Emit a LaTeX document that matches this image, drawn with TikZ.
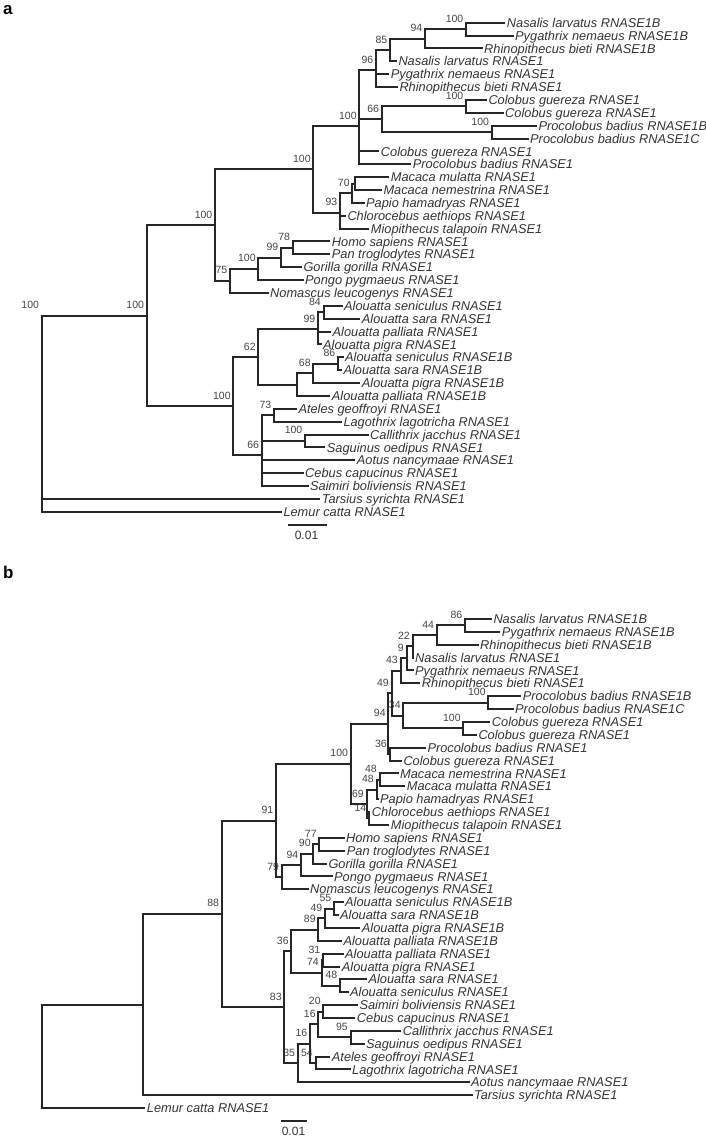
\documentclass[tikz,border=0pt]{standalone}
\usepackage{fontspec}
\usetikzlibrary{calc}
\newfontfamily\arial{Liberation Sans}
\definecolor{linec}{gray}{0.15}
\definecolor{txtc}{gray}{0.2}
\definecolor{bsc}{gray}{0.27}
\tikzset{
  brs/.style={draw=linec, line width=2pt},
  lf/.style={anchor=base west, inner sep=0pt, xshift=1.5pt, yshift=-4.6pt, text=txtc,
    font=\arial\itshape\fontsize{12.8}{14}\selectfont},
  bs/.style={anchor=base east, inner sep=0pt, xshift=-2.5pt, yshift=7pt, text=bsc,
    font=\arial\fontsize{10.5}{12}\selectfont},
  sclab/.style={anchor=base, inner sep=0pt, text=txtc, font=\arial\fontsize{12}{14}\selectfont},
  panel/.style={anchor=base west, inner sep=0pt, text=black, font=\arial\bfseries\fontsize{17}{20}\selectfont}
}
\newcommand\mkleaf[4]{\coordinate (#1) at (#2,#3); \node[lf] (#1t) at (#1) {#4};}
\newcommand\mkin[4]{\coordinate (#1) at (#2,#3); \node[bs] (#1b) at (#1) {#4};}
\newcommand\mkedge[2]{\draw[brs] (#1) |- (#2);}
\begin{document}
\begin{tikzpicture}[x=1pt,y=-1pt]
\useasboundingbox[fill=white] (0,0) rectangle (706,1137);
\node[panel] (pa) at (3,15) {a};
\node[panel] (pb) at (3,578) {b};
% ---------------- panel a ----------------
\mkleaf{a1}{505.2}{22.70}{Nasalis larvatus RNASE1B}
\mkleaf{a2}{513.5}{35.57}{Pygathrix nemaeus RNASE1B}
\mkleaf{a3}{482.5}{48.44}{Rhinopithecus bieti RNASE1B}
\mkleaf{a4}{396.8}{61.31}{Nasalis larvatus RNASE1}
\mkleaf{a5}{389.2}{74.18}{Pygathrix nemaeus RNASE1}
\mkleaf{a6}{397.8}{87.05}{Rhinopithecus bieti RNASE1}
\mkleaf{a7}{486.8}{99.92}{Colobus guereza RNASE1}
\mkleaf{a8}{503.5}{112.79}{Colobus guereza RNASE1}
\mkleaf{a9}{536.8}{125.66}{Procolobus badius RNASE1B}
\mkleaf{a10}{528.5}{138.53}{Procolobus badius RNASE1C}
\mkleaf{a11}{379.2}{151.40}{Colobus guereza RNASE1}
\mkleaf{a12}{411.2}{164.27}{Procolobus badius RNASE1}
\mkleaf{a13}{389.2}{177.14}{Macaca mulatta RNASE1}
\mkleaf{a14}{381.8}{190.01}{Macaca nemestrina RNASE1}
\mkleaf{a15}{364.5}{202.88}{Papio hamadryas RNASE1}
\mkleaf{a16}{345.8}{215.75}{Chlorocebus aethiops RNASE1}
\mkleaf{a17}{369.2}{228.62}{Miopithecus talapoin RNASE1}
\mkleaf{a18}{330.2}{241.49}{Homo sapiens RNASE1}
\mkleaf{a19}{330.2}{254.36}{Pan troglodytes RNASE1}
\mkleaf{a20}{301.8}{267.23}{Gorilla gorilla RNASE1}
\mkleaf{a21}{303.5}{280.10}{Pongo pygmaeus RNASE1}
\mkleaf{a22}{268.5}{292.97}{Nomascus leucogenys RNASE1}
\mkleaf{a23}{342.5}{305.84}{Alouatta seniculus RNASE1}
\mkleaf{a24}{360.2}{318.71}{Alouatta sara RNASE1}
\mkleaf{a25}{331}{331.58}{Alouatta palliata RNASE1}
\mkleaf{a26}{321.5}{344.45}{Alouatta pigra RNASE1}
\mkleaf{a27}{343.5}{357.32}{Alouatta seniculus RNASE1B}
\mkleaf{a28}{341.8}{370.19}{Alouatta sara RNASE1B}
\mkleaf{a29}{360.2}{383.06}{Alouatta pigra RNASE1B}
\mkleaf{a30}{330.2}{395.93}{Alouatta palliata RNASE1B}
\mkleaf{a31}{296.8}{408.80}{Ateles geoffroyi RNASE1}
\mkleaf{a32}{341.8}{421.67}{Lagothrix lagotricha RNASE1}
\mkleaf{a33}{368.5}{434.54}{Callithrix jacchus RNASE1}
\mkleaf{a34}{325.2}{447.41}{Saguinus oedipus RNASE1}
\mkleaf{a35}{355.2}{460.28}{Aotus nancymaae RNASE1}
\mkleaf{a36}{303.5}{473.15}{Cebus capucinus RNASE1}
\mkleaf{a37}{308.5}{486.02}{Saimiri boliviensis RNASE1}
\mkleaf{a38}{320.2}{498.89}{Tarsius syrichta RNASE1}
\mkleaf{a39}{281.8}{511.76}{Lemur catta RNASE1}
\mkin{A100a}{466}{29.135}{100}
\mkin{A94}{425}{38.79}{94}
\mkin{A85}{390}{50.05}{85}
\mkin{A96}{376}{70.43}{96}
\mkin{A100b}{466}{106.355}{100}
\mkin{A100c}{491.7}{132.095}{100}
\mkin{A66}{381.7}{119.225}{66}
\mkin{ACol}{359.3}{126.33}{100}
\coordinate (AMac) at (354.5,183.575);
\mkin{A70}{352.3}{193.23}{70}
\mkin{A93}{340}{212.53}{93}
\mkin{ACer}{313.3}{169.43}{100}
\mkin{A78}{292.7}{247.925}{78}
\mkin{A99}{281}{257.58}{99}
\mkin{A100h}{258.3}{268.84}{100}
\mkin{A75}{230}{280.905}{75}
\mkin{ACat}{215}{225.17}{100}
\mkin{A84}{323.5}{312.275}{84}
\mkin{A99p}{318}{329.435}{99}
\mkin{A86}{338}{363.755}{86}
\mkin{A68}{313.3}{373.41}{68}
\coordinate (A297) at (296.7,384.67);
\mkin{A62}{258.3}{357.05}{62}
\mkin{A73}{274}{415.235}{73}
\mkin{A100q}{305}{440.975}{100}
\mkin{A66p}{261.7}{455.13}{66}
\mkin{APla}{233.3}{406.09}{100}
\mkin{AAnt}{146.7}{315.63}{100}
\coordinate (ARoot) at (41.7,442.09);
\node[bs, xshift=0pt] (ARootb) at (41.7,315.63) {100};
\mkedge{A100a}{a1}\mkedge{A100a}{a2}
\mkedge{A94}{A100a}\mkedge{A94}{a3}
\mkedge{A85}{A94}\mkedge{A85}{a4}
\mkedge{A96}{A85}\mkedge{A96}{a5}\mkedge{A96}{a6}
\mkedge{A100b}{a7}\mkedge{A100b}{a8}
\mkedge{A100c}{a9}\mkedge{A100c}{a10}
\mkedge{A66}{A100b}\mkedge{A66}{A100c}
\mkedge{ACol}{A96}\mkedge{ACol}{A66}\mkedge{ACol}{a11}\mkedge{ACol}{a12}
\mkedge{AMac}{a13}\mkedge{AMac}{a14}
\mkedge{A70}{AMac}\mkedge{A70}{a15}
\mkedge{A93}{A70}\mkedge{A93}{a16}\mkedge{A93}{a17}
\mkedge{ACer}{ACol}\mkedge{ACer}{A93}
\mkedge{A78}{a18}\mkedge{A78}{a19}
\mkedge{A99}{A78}\mkedge{A99}{a20}
\mkedge{A100h}{A99}\mkedge{A100h}{a21}
\mkedge{A75}{A100h}\mkedge{A75}{a22}
\mkedge{ACat}{ACer}\mkedge{ACat}{A75}
\mkedge{A84}{a23}\mkedge{A84}{a24}
\mkedge{A99p}{A84}\mkedge{A99p}{a25}\mkedge{A99p}{a26}
\mkedge{A86}{a27}\mkedge{A86}{a28}
\mkedge{A68}{A86}\mkedge{A68}{a29}
\mkedge{A297}{A68}\mkedge{A297}{a30}
\mkedge{A62}{A99p}\mkedge{A62}{A297}
\mkedge{A73}{a31}\mkedge{A73}{a32}
\mkedge{A100q}{a33}\mkedge{A100q}{a34}
\mkedge{A66p}{A73}\mkedge{A66p}{A100q}\mkedge{A66p}{a35}\mkedge{A66p}{a36}\mkedge{A66p}{a37}
\mkedge{APla}{A62}\mkedge{APla}{A66p}
\mkedge{AAnt}{ACat}\mkedge{AAnt}{APla}
\mkedge{ARoot}{AAnt}\mkedge{ARoot}{a38}\mkedge{ARoot}{a39}
\coordinate (sa1) at (288.3,525); \coordinate (sa2) at (326.7,525);
\draw[brs] (sa1) -- (sa2);
\node[sclab] (sal) at (306.5,539.3) {0.01};
% ---------------- panel b ----------------
\mkleaf{b1}{491.8}{619.00}{Nasalis larvatus RNASE1B}
\mkleaf{b2}{500.2}{631.87}{Pygathrix nemaeus RNASE1B}
\mkleaf{b3}{478.5}{644.74}{Rhinopithecus bieti RNASE1B}
\mkleaf{b4}{413.5}{657.61}{Nasalis larvatus RNASE1}
\mkleaf{b5}{413.5}{670.48}{Pygathrix nemaeus RNASE1}
\mkleaf{b6}{420.2}{683.35}{Rhinopithecus bieti RNASE1}
\mkleaf{b7}{521.2}{696.22}{Procolobus badius RNASE1B}
\mkleaf{b8}{513.5}{709.09}{Procolobus badius RNASE1C}
\mkleaf{b9}{490.2}{721.96}{Colobus guereza RNASE1}
\mkleaf{b10}{476.8}{734.83}{Colobus guereza RNASE1}
\mkleaf{b11}{425.8}{747.70}{Procolobus badius RNASE1}
\mkleaf{b12}{401.8}{760.57}{Colobus guereza RNASE1}
\mkleaf{b13}{398.5}{773.44}{Macaca nemestrina RNASE1}
\mkleaf{b14}{405.2}{786.31}{Macaca mulatta RNASE1}
\mkleaf{b15}{378.5}{799.18}{Papio hamadryas RNASE1}
\mkleaf{b16}{370.2}{812.05}{Chlorocebus aethiops RNASE1}
\mkleaf{b17}{389.2}{824.92}{Miopithecus talapoin RNASE1}
\mkleaf{b18}{344.5}{837.79}{Homo sapiens RNASE1}
\mkleaf{b19}{345.2}{850.66}{Pan troglodytes RNASE1}
\mkleaf{b20}{326.8}{863.53}{Gorilla gorilla RNASE1}
\mkleaf{b21}{332.5}{876.40}{Pongo pygmaeus RNASE1}
\mkleaf{b22}{308.5}{889.27}{Nomascus leucogenys RNASE1}
\mkleaf{b23}{343.5}{902.14}{Alouatta seniculus RNASE1B}
\mkleaf{b24}{338.5}{915.01}{Alouatta sara RNASE1B}
\mkleaf{b25}{360.2}{927.88}{Alouatta pigra RNASE1B}
\mkleaf{b26}{341.8}{940.75}{Alouatta palliata RNASE1B}
\mkleaf{b27}{343.5}{953.62}{Alouatta palliata RNASE1}
\mkleaf{b28}{340.2}{966.49}{Alouatta pigra RNASE1}
\mkleaf{b29}{366.8}{979.36}{Alouatta sara RNASE1}
\mkleaf{b30}{348.5}{992.23}{Alouatta seniculus RNASE1}
\mkleaf{b31}{357.8}{1005.10}{Saimiri boliviensis RNASE1}
\mkleaf{b32}{355.2}{1017.97}{Cebus capucinus RNASE1}
\mkleaf{b33}{401.2}{1030.84}{Callithrix jacchus RNASE1}
\mkleaf{b34}{364.5}{1043.71}{Saguinus oedipus RNASE1}
\mkleaf{b35}{330.2}{1056.58}{Ateles geoffroyi RNASE1}
\mkleaf{b36}{350.5}{1069.45}{Lagothrix lagotricha RNASE1}
\mkleaf{b37}{469.5}{1082.32}{Aotus nancymaae RNASE1}
\mkleaf{b38}{472.5}{1095.19}{Tarsius syrichta RNASE1}
\mkleaf{b39}{145.2}{1108.06}{Lemur catta RNASE1}
\mkin{B86}{465}{625.435}{86}
\mkin{B44}{436.7}{635.09}{44}
\mkin{B22}{412.5}{646.35}{22}
\mkin{B9}{406.5}{658.415}{9}
\mkin{B43}{400.5}{670.88}{43}
\mkin{B100pb}{488.3}{702.655}{100}
\mkin{B100cg}{463.3}{728.395}{100}
\mkin{B34}{403.3}{715.525}{34}
\mkin{B49}{391.5}{693.2}{49}
\mkin{B36}{389.5}{754.135}{36}
\mkin{B94}{388.3}{723.67}{94}
\mkin{B48a}{379.5}{779.875}{48}
\mkin{B48b}{376.5}{789.53}{48}
\mkin{B14}{369}{818.485}{14}
\mkin{B69}{366.5}{804.01}{69}
\mkin{BCer}{350.7}{763.84}{100}
\mkin{B77}{319.3}{844.225}{77}
\mkin{B90}{313.3}{853.88}{90}
\mkin{B94h}{301}{865.14}{94}
\mkin{B79}{281.7}{877.205}{79}
\mkin{B91}{276}{820.52}{91}
\mkin{B55}{334}{908.575}{55}
\mkin{B49a}{325}{918.23}{49}
\mkin{B89}{318.3}{929.49}{89}
\mkin{B31}{323}{960.055}{31}
\mkin{B48c}{340}{985.795}{48}
\mkin{B74}{321.5}{972.925}{74}
\mkin{B36p}{291.3}{951.21}{36}
\mkin{B20}{323.3}{1011.535}{20}
\mkin{B95}{350.5}{1037.275}{95}
\mkin{B16a}{318.3}{1024.405}{16}
\mkin{B54}{315.5}{1063.015}{54}
\mkin{B16b}{310}{1043.71}{16}
\mkin{B35}{297.7}{1063.015}{35}
\mkin{B83}{284.3}{1007.11}{83}
\mkin{B88}{221.7}{913.815}{88}
\coordinate (B143) at (143.3,1004.5);
\coordinate (BRoot) at (41.7,1056.28);
\mkedge{B86}{b1}\mkedge{B86}{b2}
\mkedge{B44}{B86}\mkedge{B44}{b3}
\mkedge{B22}{B44}\mkedge{B22}{b4}
\mkedge{B9}{B22}\mkedge{B9}{b5}
\mkedge{B43}{B9}\mkedge{B43}{b6}
\mkedge{B100pb}{b7}\mkedge{B100pb}{b8}
\mkedge{B100cg}{b9}\mkedge{B100cg}{b10}
\mkedge{B34}{B100pb}\mkedge{B34}{B100cg}
\mkedge{B49}{B43}\mkedge{B49}{B34}
\mkedge{B36}{b11}\mkedge{B36}{b12}
\mkedge{B94}{B49}\mkedge{B94}{B36}
\mkedge{B48a}{b13}\mkedge{B48a}{b14}
\mkedge{B48b}{B48a}\mkedge{B48b}{b15}
\mkedge{B14}{b16}\mkedge{B14}{b17}
\mkedge{B69}{B48b}\mkedge{B69}{B14}
\mkedge{BCer}{B94}\mkedge{BCer}{B69}
\mkedge{B77}{b18}\mkedge{B77}{b19}
\mkedge{B90}{B77}\mkedge{B90}{b20}
\mkedge{B94h}{B90}\mkedge{B94h}{b21}
\mkedge{B79}{B94h}\mkedge{B79}{b22}
\mkedge{B91}{BCer}\mkedge{B91}{B79}
\mkedge{B55}{b23}\mkedge{B55}{b24}
\mkedge{B49a}{B55}\mkedge{B49a}{b25}
\mkedge{B89}{B49a}\mkedge{B89}{b26}
\mkedge{B31}{b27}\mkedge{B31}{b28}
\mkedge{B48c}{b29}\mkedge{B48c}{b30}
\mkedge{B74}{B31}\mkedge{B74}{B48c}
\mkedge{B36p}{B89}\mkedge{B36p}{B74}
\mkedge{B20}{b31}\mkedge{B20}{b32}
\mkedge{B95}{b33}\mkedge{B95}{b34}
\mkedge{B16a}{B20}\mkedge{B16a}{B95}
\mkedge{B54}{b35}\mkedge{B54}{b36}
\mkedge{B16b}{B16a}\mkedge{B16b}{B54}
\mkedge{B35}{B16b}\mkedge{B35}{b37}
\mkedge{B83}{B36p}\mkedge{B83}{B35}
\mkedge{B88}{B91}\mkedge{B88}{B83}
\mkedge{B143}{B88}\mkedge{B143}{b38}
\mkedge{BRoot}{B143}\mkedge{BRoot}{b39}
\coordinate (sb1) at (281,1120.7); \coordinate (sb2) at (306.7,1120.7);
\draw[brs] (sb1) -- (sb2);
\node[sclab] (sbl) at (293.5,1135.5) {0.01};
\end{tikzpicture}
\end{document}
